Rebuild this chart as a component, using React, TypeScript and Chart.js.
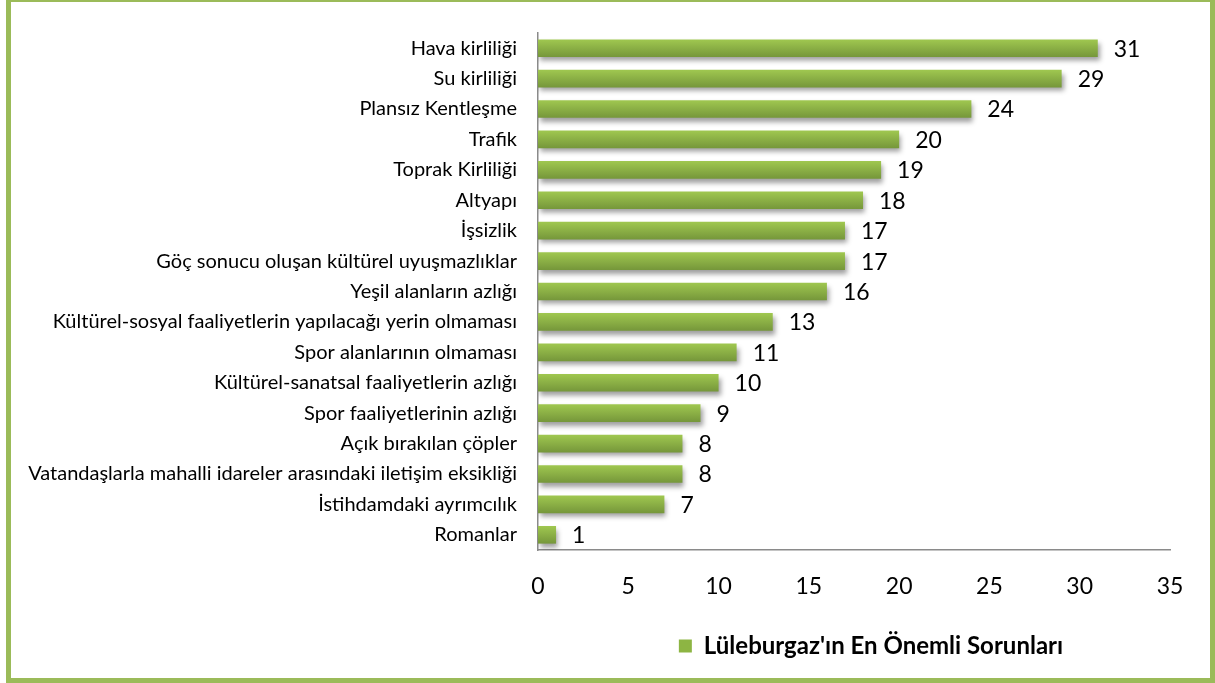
import React, { useEffect, useRef } from "react";
import { Chart, registerables } from "chart.js";

Chart.register(...registerables);

const categories: string[] = [
  "Hava kirliliği",
  "Su kirliliği",
  "Plansız Kentleşme",
  "Trafik",
  "Toprak Kirliliği",
  "Altyapı",
  "İşsizlik",
  "Göç sonucu oluşan kültürel uyuşmazlıklar",
  "Yeşil alanların azlığı",
  "Kültürel-sosyal faaliyetlerin yapılacağı yerin olmaması",
  "Spor alanlarının olmaması",
  "Kültürel-sanatsal faaliyetlerin azlığı",
  "Spor faaliyetlerinin azlığı",
  "Açık bırakılan çöpler",
  "Vatandaşlarla mahalli idareler arasındaki iletişim eksikliği",
  "İstihdamdaki ayrımcılık",
  "Romanlar",
];

const values: number[] = [31, 29, 24, 20, 19, 18, 17, 17, 16, 13, 11, 10, 9, 8, 8, 7, 1];

const seriesLabel = "Lüleburgaz'ın En Önemli Sorunları";

const xMin = 0;
const xMax = 35;
const xStep = 5;

const FONT = "Lato";

export default function App() {
  const canvasRef = useRef<HTMLCanvasElement | null>(null);

  useEffect(() => {
    const canvas = canvasRef.current;
    if (!canvas) return;

    const barPlugin = {
      id: "barShadowAndLabels",
      beforeDatasetsDraw(chart: any) {
        const ctx = chart.ctx;
        ctx.save();
        ctx.shadowColor = "rgba(0,0,0,0.38)";
        ctx.shadowBlur = 5;
        ctx.shadowOffsetX = 2;
        ctx.shadowOffsetY = 4;
      },
      afterDatasetsDraw(chart: any) {
        const ctx = chart.ctx;
        ctx.restore();
        const meta = chart.getDatasetMeta(0);
        ctx.save();
        ctx.font = `23px ${FONT}`;
        ctx.fillStyle = "#000";
        ctx.textAlign = "left";
        ctx.textBaseline = "middle";
        meta.data.forEach((el: any, i: number) => {
          ctx.fillText(String(values[i]), el.x + 16, el.y + 1);
        });
        ctx.restore();
      },
      afterLayout(chart: any) {
        const lg = chart.legend;
        if (lg) {
          lg.left += 17;
          lg.right += 17;
        }
      },
    };

    const chart = new Chart(canvas, {
      type: "bar",
      data: {
        labels: categories,
        datasets: [
          {
            label: seriesLabel,
            data: values,
            backgroundColor: (c: any) => {
              const ch = c.chart;
              const ys = ch.scales && ch.scales.y;
              if (!ys || c.type !== "data") return "#8db543";
              const center = ys.getPixelForValue(c.dataIndex);
              const half = 9;
              const g = ch.ctx.createLinearGradient(0, center - half, 0, center + half);
              g.addColorStop(0, "#a0c850");
              g.addColorStop(1, "#75963a");
              return g;
            },
            borderWidth: 0,
            categoryPercentage: 1,
            barPercentage: 0.58,
          },
        ],
      },
      options: {
        indexAxis: "y",
        animation: false,
        responsive: false,
        maintainAspectRatio: false,
        layout: { padding: { top: 27, right: 45, left: 0, bottom: 15 } },
        scales: {
          x: {
            min: xMin,
            max: xMax,
            ticks: {
              stepSize: xStep,
              font: { family: FONT, size: 23 },
              color: "#000",
              padding: 23,
            },
            grid: { display: false, drawTicks: false },
            border: { display: true, color: "#8a8a8a", width: 1.5 },
            afterFit: (s: any) => {
              s.height = 74;
            },
          },
          y: {
            ticks: {
              font: { family: FONT, size: 20 },
              color: "#000",
              padding: 21,
              autoSkip: false,
            },
            grid: { display: false, drawTicks: false },
            border: { display: true, color: "#8a8a8a", width: 1.5 },
            afterFit: (s: any) => {
              s.width = 538;
            },
          },
        },
        plugins: {
          legend: {
            position: "bottom",
            fullSize: false,
            labels: {
              boxWidth: 13,
              boxHeight: 13,
              padding: 10,
              color: "#000",
              font: { family: FONT, size: 24, weight: "bold" },
              generateLabels: () => [
                {
                  text: seriesLabel,
                  fillStyle: "#8db543",
                  strokeStyle: "rgba(0,0,0,0)",
                  lineWidth: 0,
                  hidden: false,
                  datasetIndex: 0,
                } as any,
              ],
            },
          },
          tooltip: { enabled: false },
        },
      },
      plugins: [barPlugin],
    } as any);

    return () => chart.destroy();
  }, []);

  return (
    <div
      style={{
        position: "absolute",
        left: 0,
        top: 0,
        width: 1215,
        height: 683,
        background: "#fff",
      }}
    >
      <canvas
        ref={canvasRef}
        width={1215}
        height={683}
        style={{ position: "absolute", left: 0, top: 0, width: 1215, height: 683 }}
      />
      <div
        style={{
          position: "absolute",
          left: 6,
          top: 0,
          width: 1209,
          height: 683,
          boxSizing: "border-box",
          borderLeft: "5px solid #9bbb59",
          borderTop: "2px solid #9bbb59",
          borderRight: "5px solid #9bbb59",
          borderBottom: "5px solid #9bbb59",
          pointerEvents: "none",
        }}
      />
    </div>
  );
}
